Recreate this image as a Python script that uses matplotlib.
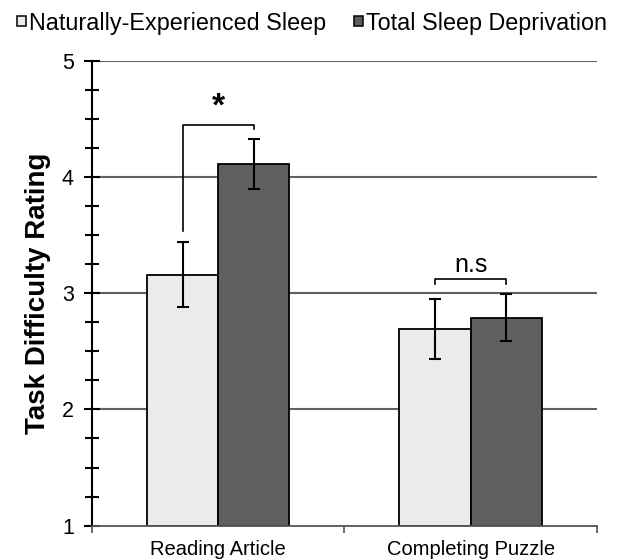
import numpy as np
import matplotlib
matplotlib.use("Agg")
import matplotlib.pyplot as plt
from matplotlib.patches import Patch
from matplotlib.ticker import MultipleLocator

plt.rcParams["font.family"] = ["Liberation Sans", "DejaVu Sans"]

# ── DATA ─────────────────────────────────────────────
categories  = ["Reading Article", "Completing Puzzle"]
series      = ["Naturally-Experienced Sleep", "Total Sleep Deprivation"]
natural     = [3.16, 2.69]
natural_err = [0.28, 0.26]
deprived    = [4.11, 2.79]
deprived_err = [0.215, 0.20]
sig_labels  = ["*", "n.s"]

LIGHT, DARK = "#ebebeb", "#5f5f5f"
W = 0.282

fig = plt.figure(figsize=(6.21, 5.59), dpi=100)
ax = fig.add_axes([0.148, 0.0597, 0.813, 0.8317])

x = np.arange(len(categories))
ax.set_xlim(-0.5, 1.5)
ax.set_ylim(1, 5)

for yv in [2, 3, 4, 5]:
    ax.axhline(yv, color="#606060", lw=1.5, zorder=1)

ekw = dict(ecolor="black", elinewidth=1.5, capsize=4.5, capthick=1.5)
ax.bar(x - W/2, np.array(natural) - 1, W, bottom=1, color=LIGHT,
       edgecolor="black", lw=1.3, zorder=2)
ax.bar(x + W/2, np.array(deprived) - 1, W, bottom=1, color=DARK,
       edgecolor="black", lw=1.3, zorder=2)
ax.errorbar(x - W/2, natural, yerr=natural_err, fmt="none", zorder=3, **ekw)
ax.errorbar(x + W/2, deprived, yerr=deprived_err, fmt="none", zorder=3, **ekw)

# significance brackets
# reading: left leg starts above the light bar's error bar
bk = dict(color="black", lw=1.2, zorder=4)
ax.plot([x[0]-W/2, x[0]-W/2, x[0]+W/2, x[0]+W/2], [3.535, 4.45, 4.45, 4.41], **bk)
ax.text(x[0], 4.47, sig_labels[0], ha="center", va="bottom",
        fontsize=24, fontweight="bold")
ax.plot([x[1]-W/2, x[1]-W/2, x[1]+W/2, x[1]+W/2], [3.08, 3.12, 3.12, 3.08], **bk)
ax.text(x[1], 3.18, sig_labels[1], ha="center", va="baseline", fontsize=18)

# axes styling
for s in ["top", "right"]:
    ax.spines[s].set_visible(False)
ax.spines["left"].set_linewidth(1.5)
ax.spines["bottom"].set_color("#555555")
ax.spines["bottom"].set_linewidth(1.3)

ax.yaxis.set_major_locator(MultipleLocator(1))
ax.yaxis.set_minor_locator(MultipleLocator(0.25))
ax.tick_params(axis="y", which="major", direction="inout", length=12,
               width=1.5, labelsize=15.5, pad=7)
ax.tick_params(axis="y", which="minor", direction="inout", length=10, width=1.5)

ax.set_xticks([-0.5, 0.5, 1.5])
ax.set_xticklabels([])
ax.set_xticks(x, minor=True)
ax.set_xticklabels(categories, minor=True, fontsize=14.5)
ax.tick_params(axis="x", which="major", direction="out", length=5,
               color="#555555", width=1.2)
ax.tick_params(axis="x", which="minor", length=0, pad=10)

ax.set_ylabel("Task Difficulty Rating", fontsize=20, fontweight="bold", labelpad=8)

handles = [Patch(facecolor=LIGHT, edgecolor="black", lw=1.1, label=series[0]),
           Patch(facecolor=DARK, edgecolor="black", lw=1.1, label=series[1])]
fig.legend(handles=handles, loc="upper left", bbox_to_anchor=(0.008, 1.0),
           ncol=2, frameon=False, fontsize=16.8, handlelength=0.38,
           handleheight=0.27, handletextpad=0.15, columnspacing=1.2,
           borderaxespad=0.15, borderpad=0.35)

plt.savefig("out.png", dpi=100)
